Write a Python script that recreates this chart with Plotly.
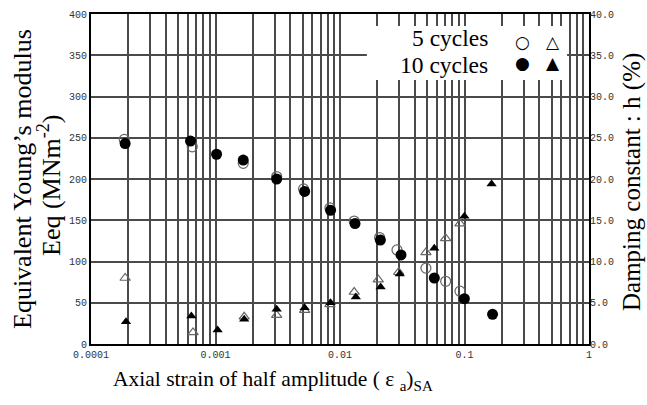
import plotly.graph_objects as go

# ---- data ----
strain_e10 = [0.000188, 0.00063, 0.00102, 0.00167, 0.0031, 0.0052, 0.0084, 0.0132, 0.0211, 0.0309, 0.0572, 0.0998, 0.168]
eeq_10 = [243, 246, 230, 223, 200, 185, 162, 146, 126, 108, 80, 55, 36]

strain_e5 = [0.000185, 0.00065, 0.00167, 0.0031, 0.0051, 0.0083, 0.013, 0.0208, 0.0287, 0.049, 0.0706, 0.092]
eeq_5 = [248, 239, 219, 203, 188, 165, 149, 129, 114, 92, 76, 64]

strain_h10 = [0.000191, 0.00064, 0.00104, 0.0017, 0.0031, 0.0052, 0.0084, 0.0134, 0.0212, 0.0302, 0.0572, 0.0998, 0.165]
damp_10 = [2.7, 3.4, 1.7, 3.0, 4.2, 4.4, 5.0, 5.7, 6.9, 8.5, 11.6, 15.5, 19.4]

strain_h5 = [0.000188, 0.00066, 0.0017, 0.0031, 0.0052, 0.0083, 0.013, 0.0203, 0.0296, 0.049, 0.0706, 0.092]
damp_5 = [8.0, 1.4, 3.3, 3.5, 4.1, 4.8, 6.3, 7.8, 8.7, 11.1, 12.8, 14.6]

x_tickvals = [0.0001, 0.001, 0.01, 0.1, 1]
x_ticktext = ["0.0001", "0.001", "0.01", "0.1", "1"]
x_minor = [k * 10.0 ** e for e in range(-4, 0) for k in range(2, 10)]
left_ticks = list(range(0, 401, 50))
right_ticks = [v / 10 for v in range(0, 401, 50)]

GRID = "#4a4a4a"
TICKFONT = dict(family="Liberation Mono, DejaVu Sans Mono, monospace", size=10, color="#333")
SERIF = "Liberation Serif, Times New Roman, serif"

fig = go.Figure()
fig.add_trace(go.Scatter(x=strain_e5, y=eeq_5, mode="markers",
                         marker=dict(symbol="circle-open", size=10, color="#666", line=dict(width=1.2)),
                         showlegend=False))
fig.add_trace(go.Scatter(x=strain_h5, y=damp_5, mode="markers", yaxis="y2",
                         marker=dict(symbol="triangle-up-open", size=9, color="#666", line=dict(width=1.2)),
                         showlegend=False))
fig.add_trace(go.Scatter(x=strain_e10, y=eeq_10, mode="markers",
                         marker=dict(symbol="circle", size=11, color="black"),
                         showlegend=False))
fig.add_trace(go.Scatter(x=strain_h10, y=damp_10, mode="markers", yaxis="y2",
                         marker=dict(symbol="triangle-up", size=9, color="black"),
                         showlegend=False))

fig.update_layout(
    width=647, height=405,
    margin=dict(l=91, r=58, t=14, b=61, autoexpand=False),
    paper_bgcolor="white", plot_bgcolor="white",
    xaxis=dict(type="log", range=[-4, 0], tickmode="array", tickvals=x_tickvals, ticktext=x_ticktext,
               showgrid=True, gridcolor=GRID, gridwidth=1.5, automargin=False,
               minor=dict(tickmode="array", tickvals=x_minor, showgrid=True, gridcolor=GRID, gridwidth=1.5),
               showline=True, linecolor="black", linewidth=2, mirror=True,
               ticks="", tickfont=TICKFONT, zeroline=False),
    yaxis=dict(range=[0, 400], tickmode="array", tickvals=left_ticks, automargin=False,
               showgrid=True, gridcolor=GRID, gridwidth=1.5,
               showline=True, linecolor="black", linewidth=2, mirror=True,
               ticks="", tickfont=TICKFONT, zeroline=False),
    yaxis2=dict(range=[0, 40], overlaying="y", side="right", tickmode="array", tickvals=right_ticks,
                automargin=False, tickformat=".1f", showgrid=False, zeroline=False, ticks="",
                tickfont=TICKFONT),
)

TITLEFONT = dict(family=SERIF, size=26, color="black")
# axis titles
fig.add_annotation(xref="paper", yref="paper", x=0.365, y=0, yshift=-36, xanchor="center", yanchor="middle",
                   text="Axial strain of half amplitude ( ε <sub>a</sub>)<sub>SA</sub>", showarrow=False,
                   font=dict(family=SERIF, size=21.5, color="black"))
fig.add_annotation(xref="paper", yref="paper", x=0, xshift=-69, y=0.5, yshift=0, xanchor="center",
                   yanchor="middle", textangle=-90, text="Equivalent Young’s modulus", showarrow=False,
                   font=TITLEFONT)
fig.add_annotation(xref="paper", yref="paper", x=0, xshift=-42, y=0.5, yshift=-6, xanchor="center",
                   yanchor="middle", textangle=-90, text="Eeq (MNm<sup>-2</sup>)", showarrow=False,
                   font=TITLEFONT)
fig.add_annotation(xref="paper", yref="paper", x=1, xshift=43, y=0.5, yshift=-3, xanchor="center",
                   yanchor="middle", textangle=-90, text="Damping constant : h (%)", showarrow=False,
                   font=dict(family=SERIF, size=25, color="black"))

# legend box (text + symbol glyphs)
fig.add_shape(type="rect", xref="paper", yref="paper", x0=0.554, x1=0.956, y0=0.80, y1=0.964,
              fillcolor="white", line=dict(width=0), layer="above")
LEGFONT = dict(family=SERIF, size=23.5, color="black")
fig.add_annotation(xref="paper", yref="paper", x=0.801, y=0.927, xanchor="right", yanchor="middle",
                   text="5 cycles", showarrow=False, font=LEGFONT)
fig.add_annotation(xref="paper", yref="paper", x=0.801, y=0.845, xanchor="right", yanchor="middle",
                   text="10 cycles", showarrow=False, font=LEGFONT)
SYMFONT = dict(family="DejaVu Sans", size=17, color="black")
for sym, xx, yy in [("○", 0.866, 0.915), ("△", 0.928, 0.915), ("●", 0.866, 0.852), ("▲", 0.928, 0.852)]:
    fig.add_annotation(xref="paper", yref="paper", x=xx, y=yy, xanchor="center", yanchor="middle",
                       text=sym, showarrow=False, font=SYMFONT)

fig.write_html("out.html", config={"displayModeBar": False},
               post_script="document.body.style.margin='0px';")
